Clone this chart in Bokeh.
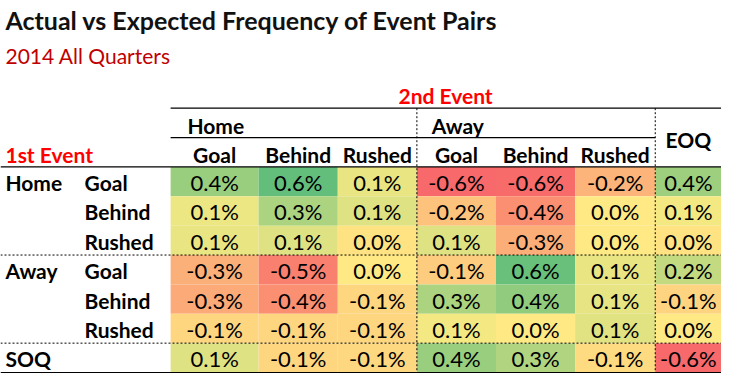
from bokeh.plotting import figure
from bokeh.models import Range1d, ColumnDataSource
from bokeh.core.properties import value
from bokeh.embed import file_html
from bokeh.resources import INLINE

# ---------------- data ----------------
title = "Actual vs Expected Frequency of Event Pairs"
subtitle = "2014 All Quarters"
first_event_label = "1st Event"
second_event_label = "2nd Event"

row_groups = ["Home", "", "", "Away", "", "", "SOQ"]
row_events = ["Goal", "Behind", "Rushed", "Goal", "Behind", "Rushed", ""]
col_groups = ["Home", "Away", "EOQ"]
col_events = ["Goal", "Behind", "Rushed", "Goal", "Behind", "Rushed", ""]

# actual minus expected frequency (%), estimated to 2 dp from the picture
home_goal   = [0.40, 0.60, 0.10, -0.60, -0.59, -0.24, 0.38]
home_behind = [0.09, 0.33, 0.14, -0.17, -0.42, 0.01, 0.06]
home_rushed = [0.10, 0.14, -0.02, 0.14, -0.27, 0.01, -0.02]
away_goal   = [-0.26, -0.49, 0.01, -0.13, 0.58, 0.10, 0.24]
away_behind = [-0.29, -0.42, -0.08, 0.33, 0.43, 0.11, -0.09]
away_rushed = [-0.08, -0.08, -0.08, 0.06, 0.01, 0.13, 0.01]
soq         = [0.14, -0.08, -0.07, 0.40, 0.31, -0.06, -0.60]
rows = [home_goal, home_behind, home_rushed, away_goal, away_behind, away_rushed, soq]

# ---------------- layout ----------------
W, H = 729, 381
col_edges = [172, 261, 341, 421, 501, 581, 662, 729]
row_top0, row_h = 170, 30

RED, YEL, GRN = (248, 105, 107), (255, 235, 132), (99, 190, 123)
vmin, vmid, vmax = -0.60, 0.02, 0.60


def lerp(c1, c2, t):
    t = max(0.0, min(1.0, t))
    return "#%02x%02x%02x" % tuple(int(round(a + (b - a) * t)) for a, b in zip(c1, c2))


def colour(v):
    if v <= vmid:
        return lerp(YEL, RED, (vmid - v) / (vmid - vmin))
    return lerp(YEL, GRN, (v - vmid) / (vmax - vmid))


def fmt(v):
    return "%.1f%%" % (round(v, 1) + 0.0)


left, right, top, bottom, fills, labels, cx, cy = [], [], [], [], [], [], [], []
for i, r in enumerate(rows):
    for j, v in enumerate(r):
        left.append(col_edges[j]); right.append(col_edges[j + 1])
        t = row_top0 + i * row_h
        top.append(t); bottom.append(t + row_h)
        fills.append(colour(v)); labels.append(fmt(v))
        cx.append((col_edges[j] + col_edges[j + 1]) / 2); cy.append(t + row_h / 2 + 1)

src = ColumnDataSource(dict(left=left, right=right, top=top, bottom=bottom,
                            fill=fills, label=labels, x=cx, y=cy))

p = figure(width=721, height=373, output_backend="svg", toolbar_location=None,
           x_range=Range1d(0, W), y_range=Range1d(H, 0), min_border=0,
           outline_line_color=None)
p.axis.visible = False
p.grid.visible = False
p.background_fill_color = "white"

p.quad(left="left", right="right", top="top", bottom="bottom", fill_color="fill",
       line_color=None, source=src)

FONT = value("Lato")
p.text(x="x", y="y", text="label", source=src, text_font=FONT, text_font_size="22px",
       text_align="center", text_baseline="middle", text_color="black")

# titles
p.text(x=[5], y=[20], text=[title], text_font=FONT, text_font_style="bold",
       text_font_size="25px", text_baseline="middle", text_color="#111111")
p.text(x=[5], y=[56], text=[subtitle], text_font=FONT,
       text_font_size="21px", text_baseline="middle", text_color="#c00000")
p.text(x=[450], y=[97], text=[second_event_label], text_font=FONT, text_font_style="bold",
       text_font_size="21px", text_baseline="middle", text_align="center", text_color="#ff0000")
p.text(x=[5], y=[157], text=[first_event_label], text_font=FONT, text_font_style="bold",
       text_font_size="21px", text_baseline="middle", text_color="#ff0000")

# column group headers
grp_x = [col_edges[0] + 17, col_edges[3] + 15, (col_edges[6] + col_edges[7]) / 2]
grp_y = [128, 128, 142]
grp_align = ["left", "left", "center"]
for g, gx, gy, ga in zip(col_groups, grp_x, grp_y, grp_align):
    p.text(x=[gx], y=[gy], text=[g], text_font=FONT, text_font_style="bold",
           text_font_size="21px", text_baseline="middle", text_align=ga, text_color="black")

# column event headers
hx = [(col_edges[j] + col_edges[j + 1]) / 2 for j in range(len(col_events))]
p.text(x=hx, y=[157] * len(hx), text=col_events, text_font=FONT, text_font_style="bold",
       text_font_size="21px", text_baseline="middle", text_align="center", text_color="black")

# row labels
ry = [row_top0 + i * row_h + row_h / 2 + 1 for i in range(len(row_groups))]
p.text(x=[5] * len(ry), y=ry, text=row_groups, text_font=FONT, text_font_style="bold",
       text_font_size="21px", text_baseline="middle", text_color="black")
p.text(x=[85] * len(ry), y=ry, text=row_events, text_font=FONT, text_font_style="bold",
       text_font_size="21px", text_baseline="middle", text_color="black")

# rules
p.segment(x0=[172, 172, 0, 0], y0=[110, 140, 170, 380], x1=[W, col_edges[6], W, W],
          y1=[110, 140, 170, 380], line_color="black", line_width=1.2)
p.segment(x0=[0, 0], y0=[260, 350], x1=[W, W], y1=[260, 350],
          line_color="black", line_width=1, line_dash="2 2")
p.segment(x0=[col_edges[3], col_edges[6]], y0=[110, 110], x1=[col_edges[3], col_edges[6]],
          y1=[380, 380], line_color="black", line_width=1, line_dash="2 2")

open("out.html", "w").write(file_html(p, INLINE))
